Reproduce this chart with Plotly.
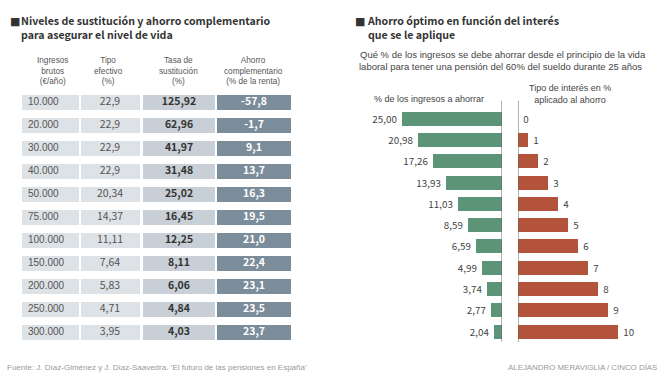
import plotly.graph_objects as go

# ---------------- data ----------------
ingresos = ["10.000", "20.000", "30.000", "40.000", "50.000", "75.000",
            "100.000", "150.000", "200.000", "250.000", "300.000"]
tipo_efectivo = ["22,9", "22,9", "22,9", "22,9", "20,34", "14,37",
                 "11,11", "7,64", "5,83", "4,71", "3,95"]
tasa_sustitucion = ["125,92", "62,96", "41,97", "31,48", "25,02", "16,45",
                    "12,25", "8,11", "6,06", "4,84", "4,03"]
ahorro_complementario = ["-57,8", "-1,7", "9,1", "13,7", "16,3", "19,5",
                         "21,0", "22,4", "23,1", "23,5", "23,7"]

ahorro_pct = [25.00, 20.98, 17.26, 13.93, 11.03, 8.59, 6.59, 4.99, 3.74, 2.77, 2.04]
tipo_interes = [0, 1, 2, 3, 4, 5, 6, 7, 8, 9, 10]

table_headers = ["Ingresos<br>brutos<br>(€/año)", "Tipo<br>efectivo<br>(%)",
                 "Tasa de<br>sustitución<br>(%)", "Ahorro<br>complementario<br>(% de la renta)"]

# ---------------- styles ----------------
W, H = 664, 379
NARROW = "Noto Sans CJK SC, Liberation Sans Narrow, Roboto, sans-serif"
REG = "Liberation Sans, Arial, sans-serif"
GREEN = "#5b9477"
RED = "#b4533b"
C_LIGHT = "#dde2e6"
C_MID = "#c8cfd6"
C_DARK = "#7b8c9a"
TXT = "#555555"
NBSP = "\u00a0"

fig = go.Figure()

# ---------------- table (axis x3/y3, pixel-like units) ----------------
rows = list(range(len(ingresos)))
cols = [  # (start, width, colour)
    (22, 57, C_LIGHT),
    (81, 59, C_LIGHT),
    (143, 72, C_MID),
    (217, 74, C_DARK),
]
for start, width, color in cols:
    fig.add_trace(go.Bar(
        x=[width] * len(rows), base=[start] * len(rows), y=rows,
        orientation="h", marker=dict(color=color, line=dict(width=0)),
        width=0.68, xaxis="x3", yaxis="y3", hoverinfo="skip", showlegend=False))

fig.add_trace(go.Scatter(x=[28] * len(rows), y=rows, text=ingresos, mode="text",
                         textposition="middle right",
                         textfont=dict(family=REG, size=10, color=TXT),
                         xaxis="x3", yaxis="y3", showlegend=False, hoverinfo="skip"))
fig.add_trace(go.Scatter(x=[110] * len(rows), y=rows, text=tipo_efectivo, mode="text",
                         textposition="middle center",
                         textfont=dict(family=NARROW, size=10.5, color=TXT),
                         xaxis="x3", yaxis="y3", showlegend=False, hoverinfo="skip"))
fig.add_trace(go.Scatter(x=[179] * len(rows), y=rows,
                         text=["<b>%s</b>" % t for t in tasa_sustitucion], mode="text",
                         textposition="middle center",
                         textfont=dict(family=NARROW, size=10.5, color="#333333"),
                         xaxis="x3", yaxis="y3", showlegend=False, hoverinfo="skip"))
fig.add_trace(go.Scatter(x=[254] * len(rows), y=rows,
                         text=["<b>%s</b>" % t for t in ahorro_complementario], mode="text",
                         textposition="middle center",
                         textfont=dict(family=NARROW, size=10.5, color="white"),
                         xaxis="x3", yaxis="y3", showlegend=False, hoverinfo="skip"))

# ---------------- butterfly bars ----------------
fig.add_trace(go.Bar(
    x=ahorro_pct, y=tipo_interes, orientation="h", xaxis="x", yaxis="y",
    marker=dict(color=GREEN, line=dict(width=0)), width=0.66,
    texttemplate="%{x:.2f}" + NBSP, textposition="outside", cliponaxis=False,
    textfont=dict(family=NARROW, size=11.2, color="#444444"),
    showlegend=False, hoverinfo="skip"))
fig.add_trace(go.Bar(
    x=tipo_interes, y=tipo_interes, orientation="h", xaxis="x2", yaxis="y2",
    marker=dict(color=RED, line=dict(width=0)), width=0.66,
    texttemplate=NBSP + "%{x}", textposition="outside", cliponaxis=False,
    textfont=dict(family=NARROW, size=11.2, color="#444444"),
    showlegend=False, hoverinfo="skip"))

ydom = [1 - 342.15 / H, 1 - 107.85 / H]
hidden = dict(visible=False, showgrid=False, zeroline=False, fixedrange=True)
fig.update_layout(
    width=W, height=H, margin=dict(l=0, r=0, t=0, b=0),
    paper_bgcolor="white", plot_bgcolor="rgba(0,0,0,0)",
    separators=",.", barmode="overlay", bargap=0,
    xaxis=dict(hidden, domain=[340 / W, 502 / W], range=[40.5, 0]),
    yaxis=dict(hidden, domain=ydom, range=[10.5, -0.5]),
    xaxis2=dict(hidden, domain=[518 / W, 1], range=[0, 14.6]),
    yaxis2=dict(hidden, domain=ydom, range=[10.5, -0.5], anchor="x2"),
    xaxis3=dict(hidden, domain=[0, 1], range=[0, W], anchor="y3"),
    yaxis3=dict(hidden, domain=[1 - 344 / H, 1 - 91 / H], range=[10.5, -0.5], anchor="x3"),
)

# axis lines
fig.add_shape(type="line", xref="x", yref="y domain", x0=0, x1=0, y0=0, y1=1.03,
              line=dict(color="#666666", width=1))
fig.add_shape(type="line", xref="x2", yref="y2 domain", x0=0, x1=0, y0=0, y1=1.03,
              line=dict(color="#666666", width=1))


def txt(x, y, s, size, family=REG, color=TXT, xanchor="left", align="left"):
    fig.add_annotation(x=x / W, y=1 - y / H, xref="paper", yref="paper", text=s,
                       showarrow=False, xanchor=xanchor, yanchor="middle", align=align,
                       borderpad=0,
                       font=dict(family=family, size=size, color=color))


# titles
txt(9, 21, "■", 11, family="DejaVu Sans", color="#333333")
txt(20, 27, "<b>Niveles de sustitución y ahorro complementario<br>"
            "para asegurar el nivel de vida</b>", 10.6, NARROW, "#333333")
txt(354, 21, "■", 11, family="DejaVu Sans", color="#333333")
txt(366, 27, "<b>Ahorro óptimo en función del interés<br>que se le aplique</b>",
    10.6, NARROW, "#333333")

txt(359, 55, "Qué % de los ingresos se debe ahorrar desde el principio de la vida", 9.5, REG, "#444444")
txt(358, 67, "laboral para tener una pensión del 60% del sueldo durante 25 años", 9.5, REG, "#444444")

# table headers
for cx, s in zip([53, 108, 178, 253], table_headers):
    txt(cx, 70.5, s, 8.2, REG, TXT, xanchor="center", align="center")

# chart axis titles
txt(429, 99, "% de los ingresos a ahorrar", 9, REG, "#444444", xanchor="center")
txt(570, 93.5, "Tipo de interés en %<br>aplicado al ahorro", 9, REG, "#444444",
    xanchor="center", align="center")

# footers
txt(6, 367, "Fuente: J. Díaz-Giménez y J. Díaz-Saavedra. ‘El futuro de las pensiones en España’",
    8, REG, "#999999")
txt(658, 367, "ALEJANDRO MERAVIGLIA / CINCO DÍAS", 7.9, REG, "#999999", xanchor="right")

fig.write_html("out.html", config={"displayModeBar": False},
               post_script="document.body.style.margin='0';document.body.style.padding='0';")
